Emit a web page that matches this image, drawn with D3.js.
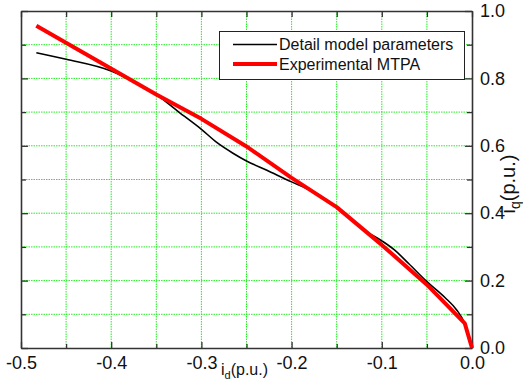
<!DOCTYPE html>
<html>
<head>
<meta charset="utf-8">
<script src="https://cdn.jsdelivr.net/npm/d3@7"></script>
<style>
    body { margin: 0; background: #fff; }
    svg { display: block; font-family: 'Liberation Sans', Arial, sans-serif; }
</style>
</head>
<body>
<svg id="chart"></svg>
<script>
// series: i_d (p.u.) and i_q (p.u.)
const detailId = [-0.483, -0.45, -0.40, -0.375, -0.35, -0.325, -0.30, -0.283, -0.265, -0.25, -0.228, -0.20, -0.18, -0.165, -0.15, -0.12, -0.10, -0.086, -0.07, -0.05, -0.03, -0.017, -0.009, 0.0];
const detailIq = [0.876, 0.857, 0.822, 0.790, 0.752, 0.700, 0.649, 0.610, 0.578, 0.555, 0.528, 0.493, 0.469, 0.446, 0.418, 0.350, 0.318, 0.291, 0.250, 0.197, 0.150, 0.113, 0.078, 0.0];

const mtpaId = [-0.483, -0.35, -0.30, -0.25, -0.20, -0.15, -0.10, -0.05, -0.008, 0.0];
const mtpaIq = [0.956, 0.752, 0.680, 0.598, 0.505, 0.418, 0.306, 0.188, 0.073, 0.0];

const seriesNames = ['Detail model parameters', 'Experimental MTPA'];
const xLabel = 'i';
const xLabelSub = 'd';
const yLabel = 'i';
const yLabelSub = 'q';
const unitText = '(p.u.)';

const width = 523, height = 388;
const margin = { top: 11, right: 51, bottom: 40, left: 21 };
const axisColor = '#333';

const svg = d3.select('#chart')
        .attr('width', width)
        .attr('height', height);

const x = d3.scaleLinear()
    .domain([-0.5, 0])
    .range([margin.left, width - margin.right]);
const y = d3.scaleLinear()
    .domain([0, 1])
    .range([height - margin.bottom, margin.top]);

const xTicks = x.ticks(10);   // every 0.05
const yTicks = y.ticks(10);   // every 0.1
const isMajorX = d => Math.round(d * 100) % 10 === 0;
const isMajorY = d => Math.round(d * 10) % 2 === 0;

// grid
const grid = svg.append('g')
        .attr('stroke', '#22ee22')
        .attr('stroke-width', 1)
        .attr('stroke-dasharray', '1.5,1');

grid.selectAll('.gx')
    .data(xTicks.slice(1, -1))
    .enter()
    .append('line')
        .attr('x1', d => x(d))
        .attr('x2', d => x(d))
        .attr('y1', y(1))
        .attr('y2', y(0));

grid.selectAll('.gy')
    .data(yTicks.slice(1, -1))
    .enter()
    .append('line')
        .attr('x1', x(-0.5))
        .attr('x2', x(0))
        .attr('y1', d => y(d))
        .attr('y2', d => y(d));

// axes, ticks pointing in
function styleAxis(g) {
    g.select('.domain')
        .attr('stroke', axisColor)
        .attr('stroke-width', 1.6);
    g.selectAll('.tick line')
        .attr('stroke', axisColor)
        .attr('stroke-width', 1.3);
    g.selectAll('.tick text')
        .attr('fill', '#111')
        .style('font-size', '18px');
}

const xBottom = svg.append('g')
    .attr('transform', `translate(0, ${y(0)})`)
    .call(d3.axisBottom(x)
        .tickValues(xTicks)
        .tickSizeInner(-6)
        .tickSizeOuter(0)
        .tickPadding(8)
        .tickFormat(d => isMajorX(d) ? d.toFixed(1) : ''))
    .call(styleAxis);
xBottom.selectAll('.tick line')
    .attr('y2', d => isMajorX(d) ? -6 : -4);

svg.append('g')
    .attr('transform', `translate(0, ${y(1)})`)
    .call(d3.axisTop(x)
        .tickValues(xTicks)
        .tickSizeInner(-6)
        .tickSizeOuter(0)
        .tickFormat(''))
    .call(styleAxis);

svg.append('g')
    .attr('transform', `translate(${x(-0.5)}, 0)`)
    .call(d3.axisLeft(y)
        .tickValues(yTicks)
        .tickSizeInner(-6)
        .tickSizeOuter(0)
        .tickFormat(''))
    .call(styleAxis)
    .selectAll('.tick line')
        .attr('x2', d => isMajorY(d) ? 7 : 5);

const yRight = svg.append('g')
    .attr('transform', `translate(${x(0)}, 0)`)
    .call(d3.axisRight(y)
        .tickValues(yTicks)
        .tickSizeInner(-6)
        .tickSizeOuter(0)
        .tickPadding(8)
        .tickFormat(d => isMajorY(d) ? d.toFixed(1) : ''))
    .call(styleAxis);
yRight.selectAll('.tick line')
    .attr('x2', d => isMajorY(d) ? -7 : -5);

// axis titles
const xt = svg.append('text')
    .attr('x', 221)
    .attr('y', 375)
    .attr('fill', '#111')
    .style('font-size', '16px');
xt.append('tspan').text(xLabel);
xt.append('tspan').attr('dy', 4).style('font-size', '11px').text(xLabelSub);
xt.append('tspan').attr('dy', -4).text(unitText);

const yt = svg.append('text')
    .attr('transform', 'translate(515, 184) rotate(-90)')
    .attr('text-anchor', 'middle')
    .attr('fill', '#111')
    .style('font-size', '20px');
yt.append('tspan').text(yLabel);
yt.append('tspan').attr('dy', 5).style('font-size', '14px').text(yLabelSub);
yt.append('tspan').attr('dy', -5).text(unitText);

// curves
const detail = detailId.map((d, i) => [d, detailIq[i]]);
const mtpa = mtpaId.map((d, i) => [d, mtpaIq[i]]);

svg.append('path')
    .datum(detail)
    .attr('fill', 'none')
    .attr('stroke', '#000')
    .attr('stroke-width', 1.6)
    .attr('d', d3.line()
        .x(d => x(d[0]))
        .y(d => y(d[1]))
        .curve(d3.curveMonotoneX));

svg.append('path')
    .datum(mtpa)
    .attr('fill', 'none')
    .attr('stroke', '#ff0000')
    .attr('stroke-width', 4)
    .attr('stroke-linejoin', 'round')
    .attr('d', d3.line()
        .x(d => x(d[0]))
        .y(d => y(d[1])));

// legend
const legend = svg.append('g')
    .attr('transform', 'translate(219, 31)');

legend.append('rect')
    .attr('x', 0.5)
    .attr('y', 0.5)
    .attr('width', 245)
    .attr('height', 48)
    .attr('fill', '#fff')
    .attr('stroke', '#222')
    .attr('stroke-width', 1);

const entries = legend.selectAll('.entry')
    .data(seriesNames)
    .enter()
    .append('g')
        .attr('class', 'entry')
        .attr('transform', (d, i) => `translate(0, ${13.5 + i * 19.5})`);

entries.append('line')
    .attr('x1', 14)
    .attr('x2', 58)
    .attr('stroke', (d, i) => i === 0 ? '#000' : '#ff0000')
    .attr('stroke-width', (d, i) => i === 0 ? 1.6 : 4);

entries.append('text')
    .attr('x', 60)
    .attr('y', 5.5)
    .attr('fill', '#111')
    .style('font-size', '16px')
    .text(d => d);
</script>
</body>
</html>
